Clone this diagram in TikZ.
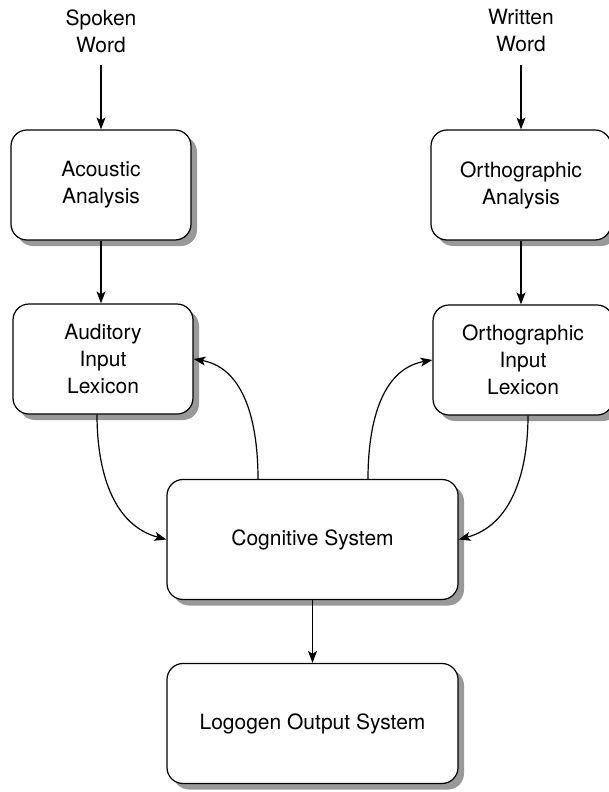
\documentclass[tikz,border=0pt]{standalone}
\usepackage{fontspec}
\setmainfont{TeX Gyre Heros}
\usetikzlibrary{shadows,arrows.meta}
\begin{document}
\begin{tikzpicture}[x=1pt,y=-1pt,
  every node/.style={font=\fontsize{21}{27}\selectfont, align=center},
  lbl/.style={inner sep=0pt, inner ysep=12pt},
  box/.style={draw, line width=1.2pt, rounded corners=16pt, fill=white,
     drop shadow={shadow xshift=6pt, shadow yshift=-6pt, fill=gray!80, opacity=1},
     minimum width=180pt, minimum height=110pt, inner sep=0pt},
  bigbox/.style={box, minimum width=291pt, minimum height=120pt},
  conn/.style={line width=1.2pt, -{Stealth[length=12pt,width=9pt,inset=3pt]}}
]
\useasboundingbox (0,0) rectangle (608,792);

\node[lbl] (sw) at (101,31) {Spoken\\Word};
\node[lbl] (ww) at (521,31) {Written\\Word};

\node[box] (aa) at (101,185) {Acoustic\\Analysis};
\node[box] (oa) at (521,185) {Orthographic\\Analysis};
\node[box] (ail) at (103,359) {Auditory\\Input\\Lexicon};
\node[box] (oil) at (523,360) {Orthographic\\Input\\Lexicon};
\node[bigbox] (cs) at (312.5,539.5) {Cognitive System};
\node[bigbox] (los) at (312.5,723.5) {Logogen Output System};

\draw[conn] (sw.south) -- (aa.north);
\draw[conn] (ww.south) -- (oa.north);
\draw[conn] (aa.south) -- (aa.south |- ail.north);
\draw[conn] (oa.south) -- (oa.south |- oil.north);
\draw[conn] (cs.south) -- (los.north);

\draw[conn] ([xshift=-6pt]ail.south) to[out=-90,in=165] (cs.west);
\draw[conn] ([xshift=-54.5pt]cs.north) to[out=90,in=-10] (ail.east);
\draw[conn] ([xshift=55.5pt]cs.north) to[out=90,in=190] (oil.west);
\draw[conn] ([xshift=5pt]oil.south) to[out=-90,in=15] (cs.east);
\end{tikzpicture}
\end{document}
